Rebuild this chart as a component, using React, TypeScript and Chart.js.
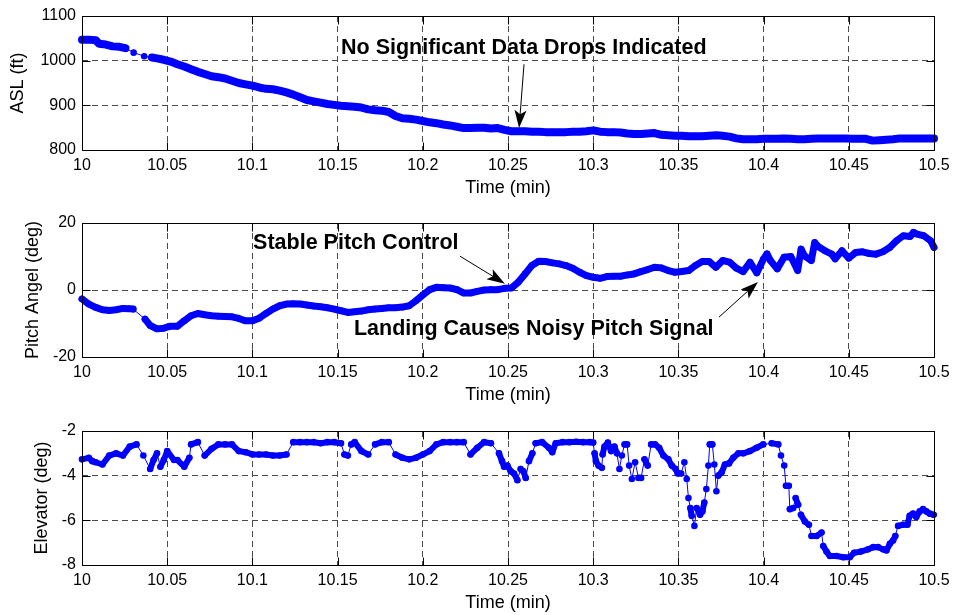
import { useEffect, useRef } from "react";
import { Chart, registerables } from "chart.js";

Chart.register(...registerables);

// ---------- data ----------
const xTickValues = [10, 10.05, 10.1, 10.15, 10.2, 10.25, 10.3, 10.35, 10.4, 10.45, 10.5];
const xTickLabels = ["10", "10.05", "10.1", "10.15", "10.2", "10.25", "10.3", "10.35", "10.4", "10.45", "10.5"];

const aslTicks = [800, 900, 1000, 1100];
const pitchTicks = [-20, 0, 20];
const elevTicks = [-8, -6, -4, -2];

const aslTime = [
  10.000, 10.004, 10.008, 10.010, 10.014, 10.018, 10.022, 10.0255, 10.0303, 10.0365, 10.041, 10.044, 10.048,
  10.052, 10.056, 10.060, 10.064, 10.068, 10.072, 10.076, 10.080, 10.084, 10.088, 10.092, 10.096, 10.100, 10.104,
  10.108, 10.112, 10.116, 10.120, 10.124, 10.128, 10.132, 10.136, 10.140, 10.144, 10.148, 10.152, 10.156, 10.160,
  10.164, 10.168, 10.172, 10.176, 10.180, 10.184, 10.188, 10.192, 10.196, 10.200, 10.204, 10.208, 10.212, 10.216,
  10.220, 10.224, 10.228, 10.232, 10.236, 10.240, 10.244, 10.248, 10.252, 10.256, 10.260, 10.264, 10.268, 10.272,
  10.276, 10.280, 10.284, 10.288, 10.292, 10.296, 10.300, 10.304, 10.308, 10.312, 10.316, 10.320, 10.324, 10.328,
  10.332, 10.336, 10.340, 10.344, 10.348, 10.352, 10.356, 10.360, 10.364, 10.368, 10.372, 10.376, 10.380, 10.384,
  10.388, 10.392, 10.396, 10.400, 10.404, 10.408, 10.412, 10.416, 10.420, 10.424, 10.428, 10.432, 10.436, 10.440,
  10.444, 10.448, 10.452, 10.456, 10.460, 10.464, 10.468, 10.472, 10.476, 10.480, 10.484, 10.488, 10.492, 10.496,
  10.500,
];
const aslFt = [
  1047, 1047, 1046, 1038, 1036, 1032, 1031, 1028, 1018, 1010, 1007, 1005, 1002,
  998, 992, 987, 981, 975, 970, 965, 963, 960, 955, 950, 947, 944, 940,
  937, 936, 933, 929, 924, 918, 912, 909, 906, 903, 901, 899, 898, 897,
  895, 891, 889, 888, 885, 876, 871, 870, 868, 865, 862, 860, 857, 855,
  852, 849, 849, 850, 850, 848, 849, 845, 842, 842, 842, 841, 841, 840,
  840, 840, 840, 841, 841, 842, 844, 841, 840, 840, 839, 837, 836, 836,
  837, 838, 834, 833, 832, 832, 831, 831, 831, 832, 833, 832, 830, 826,
  824, 824, 824, 825, 825, 825, 826, 825, 824, 824, 825, 826, 826, 826,
  826, 826, 825, 825, 825, 821, 822, 823, 824, 826, 826, 826, 826, 826,
  826,
];

const pitchTime = [
  10.000, 10.004, 10.008, 10.012, 10.016, 10.020, 10.024, 10.028, 10.030, 10.037, 10.040, 10.044, 10.048, 10.052,
  10.056, 10.060, 10.064, 10.068, 10.072, 10.076, 10.080, 10.084, 10.088, 10.092, 10.096, 10.100, 10.104, 10.108,
  10.112, 10.116, 10.120, 10.124, 10.128, 10.132, 10.136, 10.140, 10.144, 10.148, 10.152, 10.156, 10.160, 10.164,
  10.168, 10.172, 10.176, 10.180, 10.184, 10.188, 10.192, 10.196, 10.200, 10.204, 10.208, 10.212, 10.216, 10.220,
  10.224, 10.228, 10.232, 10.236, 10.240, 10.244, 10.248, 10.252, 10.256, 10.260, 10.264, 10.268, 10.272, 10.276,
  10.280, 10.284, 10.288, 10.292, 10.296, 10.300, 10.304, 10.308, 10.312, 10.316, 10.320, 10.324, 10.328, 10.332,
  10.336, 10.340, 10.344, 10.348, 10.352, 10.356, 10.360, 10.364, 10.368, 10.372, 10.376, 10.380, 10.384, 10.388,
  10.392, 10.396, 10.400, 10.402, 10.404, 10.408, 10.412, 10.416, 10.420, 10.422, 10.424, 10.428, 10.430, 10.432,
  10.436, 10.440, 10.442, 10.446, 10.450, 10.454, 10.458, 10.462, 10.466, 10.470, 10.474, 10.478, 10.482, 10.486,
  10.488, 10.490, 10.494, 10.498, 10.500,
];
const pitchDeg = [
  -2.7, -4.2, -5.2, -5.9, -6.1, -5.9, -5.5, -5.6, -5.7, -8.7, -10.6, -11.6, -11.4, -10.8,
  -10.8, -9.2, -7.7, -7.0, -7.4, -7.7, -7.8, -7.9, -8.0, -8.5, -9.2, -9.2, -8.4, -7.0,
  -5.7, -4.7, -4.2, -4.1, -4.2, -4.5, -4.8, -5.0, -5.3, -5.7, -6.2, -6.7, -6.5, -6.3,
  -5.9, -5.7, -5.5, -5.3, -5.3, -5.1, -4.7, -3.2, -1.5, 0.1, 0.8, 0.7, 0.6, 0.1,
  -0.9, -0.9, -0.4, 0.0, 0.1, 0.1, 0.5, 0.6, 2.3, 4.8, 7.3, 8.6, 8.5, 8.1,
  7.8, 7.3, 6.5, 5.3, 4.3, 3.8, 3.5, 4.0, 4.1, 4.1, 4.5, 4.8, 5.5, 6.1,
  6.8, 6.6, 5.8, 5.3, 5.5, 5.8, 7.3, 8.5, 8.5, 6.8, 8.8, 8.3, 6.5, 5.5,
  8.3, 5.1, 9.3, 10.8, 8.8, 6.3, 9.8, 10.0, 5.8, 12.2, 10.2, 8.8, 14.2, 13.0,
  11.7, 10.7, 9.3, 11.7, 9.5, 11.2, 11.4, 10.9, 10.7, 11.4, 12.7, 14.7, 16.2, 16.0,
  17.2, 16.7, 16.2, 14.7, 12.7,
];

const elevTime = [
  10.000, 10.004, 10.006, 10.008, 10.012, 10.016, 10.020, 10.024, 10.028, 10.032, 10.036, 10.040, 10.042, 10.044,
  10.046, 10.048, 10.050, 10.054, 10.056, 10.060, 10.063, 10.064, 10.068, 10.072, 10.076, 10.080, 10.084, 10.088,
  10.092, 10.096, 10.100, 10.104, 10.108, 10.112, 10.116, 10.120, 10.124, 10.128, 10.132, 10.136, 10.140, 10.144,
  10.148, 10.152, 10.154, 10.156, 10.158, 10.160, 10.164, 10.168, 10.172, 10.176, 10.180, 10.184, 10.188, 10.192,
  10.196, 10.200, 10.204, 10.208, 10.212, 10.216, 10.220, 10.224, 10.228, 10.232, 10.236, 10.240, 10.2447, 10.2465,
  10.2477, 10.2496, 10.2516, 10.2535, 10.2555, 10.2574, 10.2590, 10.2604, 10.2623, 10.2643, 10.2662, 10.270, 10.274, 10.276,
  10.278, 10.282, 10.286, 10.290, 10.294, 10.298, 10.3000, 10.3008, 10.3016, 10.3031, 10.3051, 10.3055, 10.3066, 10.3086,
  10.3105, 10.3125, 10.3139, 10.3154, 10.3168, 10.3184, 10.3199, 10.3211, 10.3227, 10.3246, 10.3266, 10.3281, 10.3301, 10.3320,
  10.3340, 10.3363, 10.3387, 10.3412, 10.3441, 10.3461, 10.3484, 10.3496, 10.3516, 10.3535, 10.3549, 10.3559, 10.3570, 10.3578,
  10.3594, 10.3607, 10.3627, 10.3641, 10.3652, 10.3664, 10.3676, 10.3684, 10.3699, 10.3711, 10.3723, 10.3734, 10.3754, 10.3773,
  10.3797, 10.3822, 10.3852, 10.3881, 10.3920, 10.3959, 10.3998, 10.4047, 10.4086, 10.4102, 10.4121, 10.4131, 10.4148, 10.4154,
  10.4174, 10.4188, 10.4203, 10.4219, 10.4242, 10.4266, 10.4281, 10.4311, 10.4340, 10.4350, 10.4369, 10.4389, 10.4428, 10.4467,
  10.4506, 10.4531, 10.4570, 10.4613, 10.4643, 10.4672, 10.4701, 10.4721, 10.4741, 10.4760, 10.4773, 10.4789, 10.4818, 10.4844,
  10.4857, 10.4877, 10.4896, 10.4916, 10.4936, 10.4955, 10.4975, 10.4998,
];
const elevDeg = [
  -3.27, -3.2, -3.35, -3.4, -3.5, -3.1, -3.0, -3.1, -2.7, -2.6, -3.1, -3.7, -3.3, -3.0,
  -3.6, -3.3, -2.9, -3.3, -3.3, -3.6, -3.2, -2.6, -2.5, -3.1, -2.8, -2.6, -2.6, -2.6,
  -2.9, -2.95, -3.05, -3.05, -3.05, -3.1, -3.1, -3.05, -2.5, -2.5, -2.5, -2.5, -2.55, -2.5,
  -2.5, -2.55, -3.05, -3.1, -2.6, -2.5, -2.9, -3.05, -2.6, -2.5, -2.5, -3.05, -3.2, -3.27,
  -3.2, -3.05, -2.9, -2.6, -2.5, -2.5, -2.5, -2.5, -3.05, -2.75, -2.5, -2.55, -3.0, -3.35,
  -3.6, -3.55, -3.8, -3.9, -4.2, -3.7, -3.8, -4.1, -3.35, -3.0, -2.55, -2.5, -2.75, -2.95,
  -2.55, -2.5, -2.5, -2.48, -2.5, -2.5, -2.52, -3.0, -3.35, -3.55, -3.65, -3.05, -2.7, -2.52,
  -2.9, -2.7, -3.0, -3.7, -3.1, -2.6, -2.6, -3.55, -4.15, -3.4, -4.1, -4.1, -3.27, -3.55,
  -2.6, -2.6, -2.75, -3.1, -3.27, -3.55, -3.7, -3.9, -3.9, -3.4, -4.15, -5.0, -5.45, -5.8,
  -6.25, -5.45, -5.75, -5.6, -5.2, -4.6, -3.55, -2.6, -2.6, -3.5, -4.7, -4.0, -3.85, -3.5,
  -3.45, -3.2, -3.0, -3.0, -2.9, -2.75, -2.6, -2.55, -2.6, -3.1, -3.55, -4.45, -4.45, -5.5,
  -5.45, -5.0, -5.3, -5.75, -6.05, -6.2, -6.7, -6.7, -6.55, -7.15, -7.4, -7.6, -7.6, -7.65,
  -7.65, -7.45, -7.4, -7.3, -7.2, -7.2, -7.3, -7.35, -7.05, -6.9, -6.7, -6.25, -6.2, -6.2,
  -5.8, -5.7, -5.85, -5.6, -5.5, -5.6, -5.7, -5.75,
];

// annotation texts (positions in data units)
const annotationTexts = [
  "No Significant Data Drops Indicated",
  "Stable Pitch Control",
  "Landing Causes Noisy Pitch Signal",
];

// ---------- styling ----------
const FONT = "'Liberation Sans', Arial, Helvetica, sans-serif";
const BLUE = "#0000ff";

type Ann = { text: string; x: number; y: number; ax: number; ay: number; bx: number; by: number };

type Panel = {
  top: number;
  height: number;
  areaTop: number;
  xAxisH: number;
  xTitlePad: number;
  yTitle: string;
  yTitlePad: number;
  yMin: number;
  yMax: number;
  yTicks: number[];
  time: number[];
  values: number[];
  bandWidth: number;
  thickDx: number;
  thickDy: number;
  anns: Ann[];
};

const panels: Panel[] = [
  {
    top: 0, height: 200, areaTop: 16, xAxisH: 50, xTitlePad: 1.2,
    yTitle: "ASL (ft)", yTitlePad: 7.2, yMin: 800, yMax: 1100, yTicks: aslTicks,
    time: aslTime, values: aslFt, bandWidth: 8, thickDx: 7.5, thickDy: 30,
    anns: [{ text: annotationTexts[0], x: 10.152, y: 1028, ax: 10.2594, ay: 992, bx: 10.2565, by: 849 }],
  },
  {
    top: 200, height: 210, areaTop: 23, xAxisH: 53, xTitlePad: 4.2,
    yTitle: "Pitch Angel (deg)", yTitlePad: 22.2, yMin: -20, yMax: 20, yTicks: pitchTicks,
    time: pitchTime, values: pitchDeg, bandWidth: 7, thickDx: 10, thickDy: 60,
    anns: [
      { text: annotationTexts[1], x: 10.1004, y: 14.1, ax: 10.2218, ay: 10.1, bx: 10.2482, by: 1.9 },
      { text: annotationTexts[2], x: 10.1596, y: -11.7, ax: 10.3738, ay: -8.1, bx: 10.3967, by: 2.4 },
    ],
  },
  {
    top: 410, height: 205, areaTop: 21, xAxisH: 50, xTitlePad: 0.7,
    yTitle: "Elevator (deg)", yTitlePad: 31.2, yMin: -8, yMax: -2, yTicks: elevTicks,
    time: elevTime, values: elevDeg, bandWidth: 6, thickDx: 8, thickDy: 10,
    anns: [],
  },
];

const framePlugin = {
  id: "frame",
  afterDraw(chart: any, _args: any, opts: any) {
    const { ctx, chartArea: a, scales } = chart;
    const L = Math.round(a.left) + 0.5;
    const R = Math.round(a.right) + 0.5;
    const T = Math.round(a.top) + 0.5;
    const B = Math.round(a.bottom) + 0.5;
    ctx.save();
    ctx.strokeStyle = "#000";
    ctx.lineWidth = 1;
    ctx.setLineDash([]);
    ctx.beginPath();
    const tl = 8;
    for (const t of scales.x.ticks) {
      const px = Math.round(scales.x.getPixelForValue(t.value)) + 0.5;
      ctx.moveTo(px, T); ctx.lineTo(px, T + tl);
      ctx.moveTo(px, B); ctx.lineTo(px, B - tl);
    }
    for (const t of scales.y.ticks) {
      const py = Math.round(scales.y.getPixelForValue(t.value)) + 0.5;
      ctx.moveTo(L, py); ctx.lineTo(L + tl, py);
      ctx.moveTo(R, py); ctx.lineTo(R - tl, py);
    }
    ctx.stroke();
    ctx.strokeRect(L, T, R - L, B - T);

    const items: Ann[] = (opts && opts.items) || [];
    for (const an of items) {
      const tx = scales.x.getPixelForValue(an.x);
      const ty = scales.y.getPixelForValue(an.y);
      ctx.fillStyle = "#000";
      ctx.font = `bold 21.5px ${FONT}`;
      ctx.textAlign = "left";
      ctx.textBaseline = "middle";
      ctx.fillText(an.text, tx, ty);

      const x1 = scales.x.getPixelForValue(an.ax);
      const y1 = scales.y.getPixelForValue(an.ay);
      const x2 = scales.x.getPixelForValue(an.bx);
      const y2 = scales.y.getPixelForValue(an.by);
      const ang = Math.atan2(y2 - y1, x2 - x1);
      const hl = 18, hw = 6, notch = 4;
      const ux = Math.cos(ang), uy = Math.sin(ang);
      const nx = -uy, ny = ux;
      ctx.beginPath();
      ctx.moveTo(x1, y1);
      ctx.lineTo(x2 - ux * (hl - notch), y2 - uy * (hl - notch));
      ctx.stroke();
      ctx.beginPath();
      ctx.moveTo(x2, y2);
      ctx.lineTo(x2 - ux * hl + nx * hw, y2 - uy * hl + ny * hw);
      ctx.lineTo(x2 - ux * (hl - notch), y2 - uy * (hl - notch));
      ctx.lineTo(x2 - ux * hl - nx * hw, y2 - uy * hl - ny * hw);
      ctx.closePath();
      ctx.fill();
    }
    ctx.restore();
  },
};

function PanelChart({ p }: { p: Panel }) {
  const ref = useRef<HTMLCanvasElement | null>(null);
  useEffect(() => {
    if (!ref.current) return;
    const points = p.time.map((t, i) => ({ x: t, y: p.values[i] }));
    const gridColor = "#4a4a4a";
    const chart = new Chart(ref.current, {
      type: "line",
      data: {
        datasets: [
          {
            data: points,
            borderColor: BLUE,
            backgroundColor: BLUE,
            borderWidth: 1,
            borderCapStyle: "round",
            borderJoinStyle: "round",
            pointRadius: 3.3,
            pointBorderWidth: 0,
            pointBackgroundColor: BLUE,
            tension: 0,
            clip: 6,
            segment: {
              borderWidth: (c: any) => {
                const dx = Math.abs(c.p1.x - c.p0.x);
                const dy = Math.abs(c.p1.y - c.p0.y);
                return dx < p.thickDx && dy < p.thickDy ? p.bandWidth : 1;
              },
            },
          } as any,
        ],
      },
      options: {
        responsive: false,
        animation: false,
        devicePixelRatio: 1,
        layout: { padding: { top: p.areaTop, right: 22, left: 0, bottom: 0 } },
        plugins: {
          legend: { display: false },
          tooltip: { enabled: false },
          frame: { items: p.anns },
        } as any,
        scales: {
          x: {
            type: "linear",
            min: 10,
            max: 10.5,
            afterBuildTicks: (s: any) => {
              s.ticks = xTickValues.map((v) => ({ value: v }));
            },
            afterFit: (s: any) => {
              s.height = p.xAxisH;
            },
            ticks: {
              autoSkip: false,
              maxRotation: 0,
              padding: 6,
              color: "#000",
              font: { family: FONT, size: 16 },
              callback: (_v: any, i: number) => xTickLabels[i],
            },
            grid: { color: gridColor, lineWidth: 1, drawTicks: false },
            border: { display: false, dash: [6, 4] },
            title: {
              display: true,
              text: "Time (min)",
              color: "#000",
              font: { family: FONT, size: 18 },
              padding: { top: 0, bottom: p.xTitlePad },
            },
          },
          y: {
            type: "linear",
            min: p.yMin,
            max: p.yMax,
            afterBuildTicks: (s: any) => {
              s.ticks = p.yTicks.map((v) => ({ value: v }));
            },
            afterFit: (s: any) => {
              s.width = 82;
            },
            ticks: {
              autoSkip: false,
              padding: 6,
              color: "#000",
              font: { family: FONT, size: 16 },
              callback: (v: any) => String(v),
            },
            grid: { color: gridColor, lineWidth: 1, drawTicks: false },
            border: { display: false, dash: [6, 4] },
            title: {
              display: true,
              text: p.yTitle,
              color: "#000",
              font: { family: FONT, size: 18 },
              padding: { top: p.yTitlePad, bottom: 0 },
            },
          },
        },
      },
      plugins: [framePlugin as any],
    });
    return () => chart.destroy();
  }, [p]);
  return (
    <div style={{ position: "absolute", left: 0, top: p.top, width: 956, height: p.height }}>
      <canvas ref={ref} width={956} height={p.height} style={{ display: "block", width: 956, height: p.height }} />
    </div>
  );
}

export default function App() {
  return (
    <div style={{ position: "fixed", left: 0, top: 0, width: 956, height: 615, background: "#fff", overflow: "hidden" }}>
      {panels.map((p, i) => (
        <PanelChart key={i} p={p} />
      ))}
    </div>
  );
}
